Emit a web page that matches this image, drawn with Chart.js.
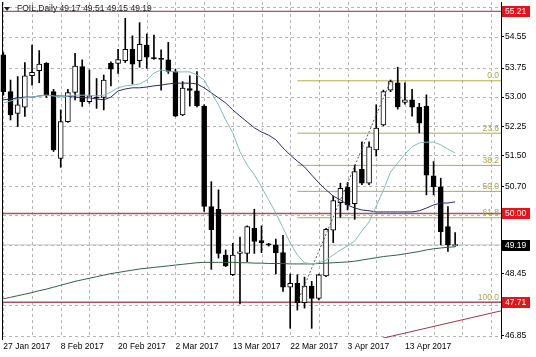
<!DOCTYPE html>
<html><head><meta charset="utf-8">
<script src="https://cdn.jsdelivr.net/npm/chart.js@4/dist/chart.umd.min.js"></script>
<style>html,body{margin:0;padding:0;background:#fff;}#wrap{width:536px;height:357px;}</style>
</head><body><div id="wrap"><canvas id="c" width="536" height="357"></canvas></div>
<script>
// ---------- data ----------
const dateLabels = ['27 Jan 2017','8 Feb 2017','20 Feb 2017','2 Mar 2017','13 Mar 2017','22 Mar 2017','3 Apr 2017','13 Apr 2017'];
const dateLabelBars = [0, 8, 16, 24, 32, 40, 48, 56];

const open  = [54.09,53.14,52.58,52.74,53.55,53.68,53.87,53.14,51.42,52.37,53.12,53.79,52.88,53.00,52.99,53.87,53.87,53.94,54.23,53.94,54.34,54.02,54.00,53.96,53.66,52.54,53.22,53.16,52.77,50.18,50.11,48.93,48.42,48.97,48.97,49.62,49.30,49.21,49.19,48.99,48.10,48.20,47.70,48.13,47.81,48.39,49.57,50.28,50.68,50.25,51.14,50.78,51.64,52.28,53.18,53.37,52.86,52.93,52.74,52.77,50.97,50.69,49.66,49.17];
const high  = [54.15,53.44,53.53,53.89,54.34,54.20,53.89,53.20,52.67,53.20,54.13,53.96,53.70,53.48,53.57,53.91,54.23,55.03,54.58,54.92,54.63,54.60,54.22,54.41,53.72,53.40,53.55,53.66,52.80,50.82,50.61,49.06,49.23,49.39,49.68,50.11,49.68,49.23,49.34,49.44,48.44,48.42,48.36,48.25,48.44,49.62,50.45,50.78,50.80,51.25,51.85,51.85,52.80,53.18,53.44,53.77,53.37,53.20,52.84,53.06,51.34,50.91,50.18,49.51];
const low   = [53.05,52.41,52.24,52.50,53.31,53.37,52.99,51.60,51.19,52.35,52.93,52.76,52.84,52.71,52.67,53.29,53.61,53.89,53.34,53.77,53.74,53.97,53.18,53.61,52.50,52.52,52.77,52.75,50.05,48.56,48.85,48.63,48.40,47.67,48.76,48.97,48.99,49.16,48.44,47.99,47.04,47.51,47.56,47.04,47.77,48.37,49.25,49.90,50.09,49.85,50.74,50.74,51.48,52.26,53.14,52.69,52.82,52.51,52.08,50.48,50.48,49.19,49.02,49.15];
const close = [53.14,52.54,52.80,53.55,53.64,53.85,53.06,51.64,52.37,53.12,53.80,52.88,53.03,52.97,53.44,53.72,53.97,54.23,53.85,54.36,54.03,53.99,53.97,53.66,52.51,53.23,53.17,52.77,50.18,49.58,48.97,48.65,48.93,49.01,49.66,49.28,49.25,49.19,48.99,48.10,48.20,47.70,48.13,47.81,48.42,49.59,50.33,50.65,50.22,51.08,50.78,51.72,52.20,53.14,53.40,52.75,52.93,52.74,52.33,50.99,50.69,49.53,49.19,49.19];

// moving averages (fast = light teal, mid = navy, slow = dark green)
const maFast = [52.85,52.90,52.95,52.98,53.00,53.03,53.05,53.03,53.00,53.03,53.05,53.05,53.05,53.03,53.05,53.13,53.24,53.29,53.31,53.34,53.44,53.62,53.70,53.67,53.65,53.65,53.65,53.57,53.44,53.11,52.80,52.41,52.08,51.59,51.25,51.00,50.68,50.35,50.01,49.63,49.24,48.93,48.73,48.70,48.73,48.80,48.93,49.06,49.16,49.29,49.55,49.78,50.19,50.60,51.07,51.30,51.53,51.72,51.82,51.84,51.84,51.77,51.66,51.56];
const maMid  = [52.93,52.95,52.98,53.00,53.00,53.03,53.05,53.03,53.03,53.02,53.00,52.99,52.98,52.95,52.93,53.00,53.16,53.21,53.24,53.24,53.26,53.29,53.31,53.34,53.36,53.36,53.36,53.34,53.24,53.11,52.98,52.85,52.67,52.51,52.36,52.21,52.10,52.02,51.90,51.69,51.51,51.35,51.20,50.99,50.79,50.61,50.45,50.35,50.22,50.14,50.09,50.07,50.04,50.04,50.04,50.04,50.04,50.04,50.07,50.14,50.22,50.27,50.27,50.30];
const maSlow = [47.80,47.84,47.88,47.92,47.96,48.01,48.05,48.10,48.15,48.20,48.25,48.29,48.33,48.37,48.41,48.45,48.48,48.51,48.54,48.57,48.59,48.61,48.63,48.65,48.67,48.69,48.71,48.73,48.74,48.74,48.74,48.74,48.74,48.73,48.73,48.72,48.72,48.71,48.71,48.71,48.70,48.70,48.70,48.70,48.71,48.72,48.73,48.74,48.75,48.77,48.80,48.83,48.86,48.89,48.91,48.93,48.96,48.99,49.02,49.06,49.09,49.11,49.13,49.14];

const yTickValues = [55.33,54.55,53.75,53.00,52.25,51.50,50.70,49.95,49.20,48.45,47.65,46.85];
const yTickLabels = ['','54.55','53.75','53.00','52.25','51.50','50.70','','','48.45','','46.85'];

const levelValues = [55.21, 50.00, 47.71];
const levelLabels = ['55.21', '50.00', '47.71'];
const bidValue = 49.19;
const bidLabel = '49.19';

const fibValues = [53.42, 52.07, 51.24, 50.57, 49.89, 47.71];
const fibLabels = ['0.0', '23.6', '38.2', '50.0', '61.8', '100.0'];
const fibAnchorBars = [41, 54];
const fibAnchorValues = [47.71, 53.42];

const trendBars = [50, 69.4];
const trendValues = [46.66, 47.49];

const titleText = 'FOIL,Daily 49.17 49.51 49.15 49.19';

// ---------- config ----------
const X_MIN = -0.05, X_MAX = 69.4, Y_MIN = 46.79, Y_MAX = 55.452;
const FONT = "'Liberation Sans', Arial, sans-serif";

const idx = open.map((_, i) => i);
const bodyColors = idx.map(i => close[i] >= open[i] ? '#ffffff' : '#000000');

function hline(v, color, width) {
  return { type: 'line', data: [{x: X_MIN, y: v}, {x: X_MAX, y: v}], borderColor: color,
    borderWidth: width, pointRadius: 0, order: 3 };
}

const datasets = [
  { type: 'line', data: idx.map(i => ({x: i, y: maFast[i]})), borderColor: '#80bcbb', borderWidth: 1, pointRadius: 0, tension: 0, order: 0 },
  { type: 'line', data: idx.map(i => ({x: i, y: maMid[i]})), borderColor: '#2a2a6e', borderWidth: 1, pointRadius: 0, tension: 0, order: 0 },
  { type: 'line', data: idx.map(i => ({x: i, y: maSlow[i]})), borderColor: '#2f6244', borderWidth: 1, pointRadius: 0, tension: 0, order: 0 },
  { type: 'line', data: fibAnchorBars.map((b, k) => ({x: b, y: fibAnchorValues[k]})), borderColor: '#555555', borderWidth: 1, borderDash: [2, 2], pointRadius: 0, order: 0 },
  { type: 'line', data: trendBars.map((b, k) => ({x: b, y: trendValues[k]})), borderColor: '#9a3848', borderWidth: 1, pointRadius: 0, order: 0 },
  { type: 'bar', data: idx.map(i => ({x: i, y: [open[i], close[i]]})), backgroundColor: bodyColors, borderColor: '#000', borderWidth: 1,
    borderSkipped: false, barThickness: 5, grouped: false, minBarLength: 1, order: 1, clip: {left: 5, right: 0, top: 0, bottom: 0} },
  { type: 'bar', data: idx.map(i => ({x: i, y: [low[i], high[i]]})), backgroundColor: '#000', borderWidth: 0,
    barThickness: 1, grouped: false, order: 2, clip: {left: 5, right: 0, top: 0, bottom: 0} },
];
levelValues.forEach(v => datasets.push(hline(v, '#a9545e', 1.4)));
datasets.push(hline(bidValue, '#c4c4c4', 1));
fibValues.forEach(v => datasets.push({ type: 'line', data: [{x: fibAnchorBars[0], y: v}, {x: X_MAX, y: v}],
  borderColor: '#b3aa4e', borderWidth: 1, pointRadius: 0, order: 3 }));

const overlay = {
  id: 'overlay',
  beforeDatasetsDraw(chart) {
    // dashed grid drawn from the scales' own ticks
    const {ctx, chartArea: a, scales: {x, y}} = chart;
    ctx.save();
    ctx.strokeStyle = '#b4b4b4'; ctx.lineWidth = 1; ctx.setLineDash([3, 3]);
    ctx.beginPath();
    x.ticks.forEach(t => { const px = Math.round(x.getPixelForValue(t.value)) + 0.5; ctx.moveTo(px, a.top); ctx.lineTo(px, a.bottom); });
    y.ticks.forEach(t => { const py = Math.round(y.getPixelForValue(t.value)) + 0.5; ctx.moveTo(a.left, py); ctx.lineTo(a.right, py); });
    ctx.stroke();
    ctx.restore();
  },
  afterDatasetsDraw(chart) {
    const {ctx, chartArea: a, scales: {y}} = chart;
    ctx.save();
    ctx.font = "8.5px " + FONT;
    ctx.fillStyle = '#b0a44a';
    ctx.textAlign = 'right';
    ctx.textBaseline = 'bottom';
    fibValues.forEach((v, k) => ctx.fillText(fibLabels[k], a.right - 2, y.getPixelForValue(v) - 0.5));
    ctx.restore();
  },
  afterDraw(chart) {
    const {ctx, chartArea: a, scales: {y}} = chart;
    ctx.save();
    // left frame line
    ctx.strokeStyle = '#000'; ctx.lineWidth = 1;
    ctx.beginPath(); ctx.moveTo(a.left - 0.5, a.top); ctx.lineTo(a.left - 0.5, a.bottom + 2); ctx.stroke();
    // title
    ctx.fillStyle = '#222';
    ctx.beginPath(); ctx.moveTo(4, 7); ctx.lineTo(10, 7); ctx.lineTo(7, 11); ctx.closePath(); ctx.fill();
    ctx.font = "8.5px " + FONT;
    ctx.textAlign = 'left'; ctx.textBaseline = 'middle';
    ctx.fillText(titleText, 17, 9);
    // price boxes
    const boxes = levelValues.map((v, k) => [v, levelLabels[k], '#e3141a']);
    boxes.push([bidValue, bidLabel, '#000000']);
    boxes.forEach(([v, t, col]) => {
      const py = Math.round(y.getPixelForValue(v));
      ctx.fillStyle = col;
      ctx.fillRect(a.right + 1, py - 5, 28, 11);
      ctx.fillStyle = '#fff';
      ctx.font = "8.5px " + FONT;
      ctx.textAlign = 'left'; ctx.textBaseline = 'middle';
      ctx.fillText(t, a.right + 4, py + 0.5);
    });
    ctx.restore();
  }
};

function noPad(s) { s.paddingTop = 0; s.paddingBottom = 0; s.paddingLeft = 0; s.paddingRight = 0; }

new Chart(document.getElementById('c'), {
  type: 'bar',
  data: { datasets },
  plugins: [overlay],
  options: {
    responsive: false, animation: false, devicePixelRatio: 1,
    layout: { padding: { left: 3, top: 2, right: 0, bottom: 0 } },
    plugins: { legend: { display: false }, tooltip: { enabled: false }, title: { display: false } },
    scales: {
      x: {
        type: 'linear', min: X_MIN, max: X_MAX, offset: false,
        grid: { drawOnChartArea: false, drawTicks: false, offset: false },
        border: { display: false },
        afterBuildTicks(s) { const t = []; for (let v = 0; v <= 68; v += 4) t.push({value: v}); s.ticks = t; },
        afterFit(s) { s.height = 19; noPad(s); },
        ticks: {
          autoSkip: false, maxRotation: 0, minRotation: 0, align: 'start', padding: 4,
          color: '#000', font: { family: FONT, size: 8.5 },
          callback(v) { const k = dateLabelBars.indexOf(v); return k >= 0 ? dateLabels[k] : ''; }
        }
      },
      y: {
        type: 'linear', position: 'right', min: Y_MIN, max: Y_MAX,
        grid: { drawOnChartArea: false, tickColor: '#000', tickLength: 3 },
        border: { display: true, color: '#000', width: 1 },
        afterBuildTicks(s) { s.ticks = yTickValues.map(v => ({value: v})); },
        afterFit(s) { s.width = 35; noPad(s); },
        ticks: {
          autoSkip: false, padding: 1, color: '#000', font: { family: FONT, size: 8.5 },
          callback(v, i) { return yTickLabels[i]; }
        }
      }
    }
  }
});
</script></body></html>
